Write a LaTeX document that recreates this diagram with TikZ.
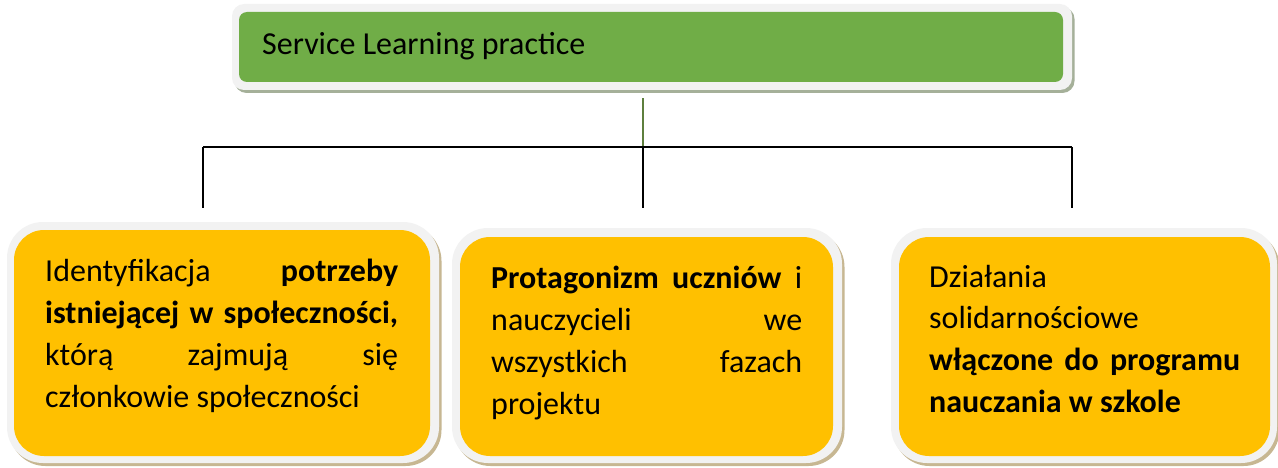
\documentclass[tikz,border=0pt]{standalone}
\usepackage{fontspec}
\setmainfont{Carlito}
\definecolor{greenF}{HTML}{70AD47}
\definecolor{orangeF}{HTML}{FFC000}
\definecolor{frameC}{HTML}{F2F2F2}
\definecolor{shG}{HTML}{8E9C80}
\definecolor{shO}{HTML}{B9A577}
\definecolor{lineG}{HTML}{5E7F3E}
\tikzset{
  box/.style={rectangle, inner sep=0pt, draw=none},
  frameS/.style={box, fill=frameC},
  greenS/.style={box, fill=greenF, rounded corners=8pt},
  orangeS/.style={box, fill=orangeF, rounded corners=30pt},
  conn/.style={line width=1.6pt, black},
  txt/.style={inner sep=0pt, anchor=base west},
}
\newcommand{\boxtext}[2]{\parbox[t]{#1}{\fontsize{32}{42}\selectfont #2}}
\begin{document}
\begin{tikzpicture}[x=1pt,y=-1pt]
\useasboundingbox (0,0) rectangle (1278,468);
% top box
\node[box, fill=shG, opacity=0.8, rounded corners=12pt, minimum width=840pt, minimum height=86pt] (topsh) at (654.5,50) {};
\node[frameS, rounded corners=12pt, minimum width=840pt, minimum height=86pt] (topfr) at (652,47) {};
\node[greenS, minimum width=824pt, minimum height=70pt] (top) at (651,47) {};
\node[txt] (toptxt) at (262,55) {\fontsize{32}{38}\selectfont Service Learning practice};
% orange boxes
\node[box, fill=shO, opacity=0.8, rounded corners=36pt, minimum width=432pt, minimum height=241pt] (b1sh) at (225.5,345.5) {};
\node[frameS, rounded corners=36pt, minimum width=432pt, minimum height=241pt] (b1fr) at (223,342.5) {};
\node[orangeS, minimum width=416pt, minimum height=226pt] (b1) at (222,343) {};
\node[box, fill=shO, opacity=0.8, rounded corners=36pt, minimum width=390pt, minimum height=235pt] (b2sh) at (649.5,348.5) {};
\node[frameS, rounded corners=36pt, minimum width=390pt, minimum height=235pt] (b2fr) at (647,345.5) {};
\node[orangeS, minimum width=373pt, minimum height=219pt] (b2) at (646.5,346.5) {};
\node[box, fill=shO, opacity=0.8, rounded corners=36pt, minimum width=386pt, minimum height=235pt] (b3sh) at (1086.5,348.5) {};
\node[frameS, rounded corners=36pt, minimum width=386pt, minimum height=235pt] (b3fr) at (1084,345.5) {};
\node[orangeS, minimum width=371pt, minimum height=219pt] (b3) at (1084.5,346.5) {};
% texts
\node[txt] (t1) at (45,281) {\boxtext{353pt}{Identyfikacja \textbf{potrzeby}\linebreak \textbf{istniejącej w społeczności,}\linebreak którą zajmują się\linebreak członkowie społeczności}};
\node[txt] (t2) at (491,288) {\boxtext{311pt}{\textbf{Protagonizm uczniów} i\linebreak nauczycieli we\linebreak wszystkich fazach\linebreak projektu}};
\node[txt] (t3) at (929,287) {\boxtext{311pt}{Działania\newline solidarnościowe\newline \textbf{włączone do programu}\linebreak \textbf{nauczania w szkole}}};
% connectors
\coordinate (j) at (643,147);
\coordinate (jl) at (203,147);
\coordinate (jr) at (1072,147);
\coordinate (d1) at (203,208);
\coordinate (d2) at (643,208);
\coordinate (d3) at (1072,208);
\draw[line width=1.6pt, lineG] (top.south -| j) ++(0,16) -- (j);
\draw[conn] (jl) -- (jr);
\draw[conn] (jl) -- (d1);
\draw[conn] (j) -- (d2);
\draw[conn] (jr) -- (d3);
\end{tikzpicture}
\end{document}
